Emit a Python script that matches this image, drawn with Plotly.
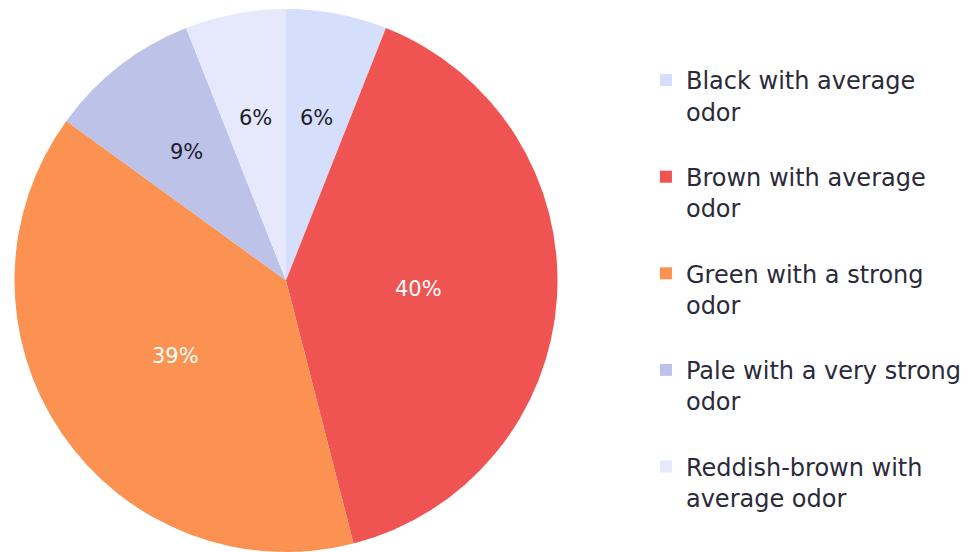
import math
import plotly.graph_objects as go

labels = ["Black with average<br>odor", "Brown with average<br>odor", "Green with a strong<br>odor",
          "Pale with a very strong<br>odor", "Reddish-brown with<br>average odor"]
values = [6, 40, 39, 9, 6]
colors = ["#d5defa", "#f05452", "#fb9252", "#bcc2e8", "#e5e9fb"]
text_colors = ["#1e1e2a", "#ffffff", "#ffffff", "#1e1e2a", "#1e1e2a"]

W, H = 967, 552
dom_x = [14.5 / W, 557.5 / W]
dom_y = [0, 1 - 9 / H]

fig = go.Figure(go.Pie(
    labels=[l + "<br> " for l in labels],
    values=values,
    sort=False,
    direction="clockwise",
    rotation=0,
    marker=dict(colors=colors, line=dict(width=0)),
    textinfo="none",
    domain=dict(x=dom_x, y=dom_y),
    hoverinfo="skip",
))

# percentage labels placed at each slice's mid-angle (derived from values)
total = sum(values)
cx = (dom_x[0] + dom_x[1]) / 2 * W
cy = (1 - (dom_y[0] + dom_y[1]) / 2) * H
R = (dom_y[1] - dom_y[0]) * H / 2
cum = 0
for v, tc in zip(values, text_colors):
    mid = (cum + v / 2) / total * 2 * math.pi
    cum += v
    frac = 0.63 - 0.0035 * v / total * 100
    px = cx + R * frac * math.sin(mid)
    py = cy - R * frac * math.cos(mid)
    fig.add_annotation(x=px / W, y=1 - py / H, xref="paper", yref="paper",
                       xanchor="center", yanchor="middle",
                       text=f"{round(v / total * 100)}%", showarrow=False,
                       font=dict(size=21, color=tc, family="DejaVu Sans"))

fig.update_layout(
    width=W, height=H,
    margin=dict(l=0, r=0, t=0, b=0),
    paper_bgcolor="white",
    font=dict(family="DejaVu Sans", color="#2b2a3a"),
    legend=dict(x=0.668, y=0.886, xanchor="left", yanchor="top", valign="top",
                font=dict(size=24, color="#2b2a3a", family="DejaVu Sans"),
                itemwidth=30, tracegroupgap=0),
    showlegend=True,
)
fig.write_html("out.html")
